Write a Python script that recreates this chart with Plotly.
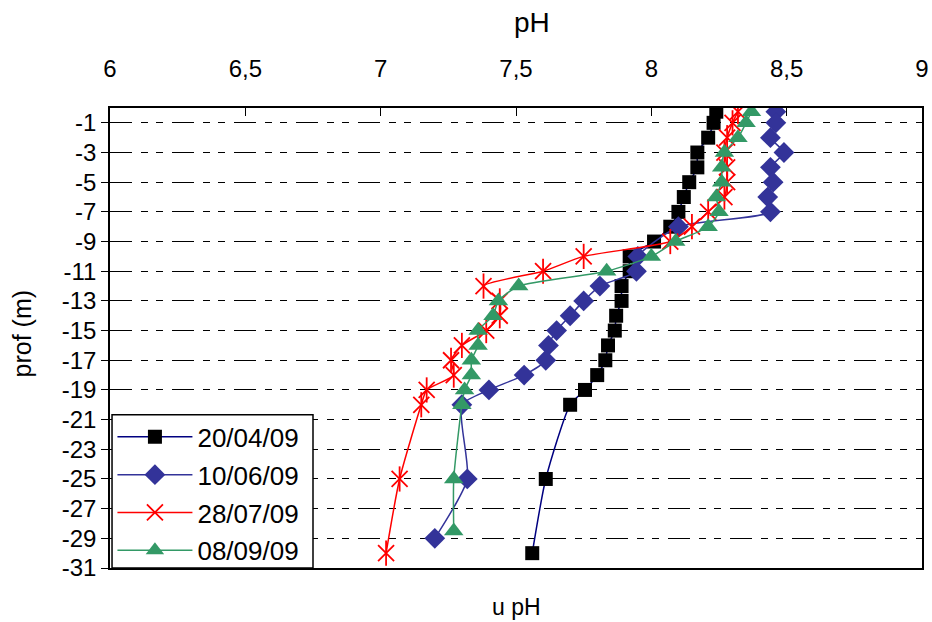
import plotly.graph_objects as go

# ---- data ----
series_names = ["20/04/09", "10/06/09", "28/07/09", "08/09/09"]

depth_1 = [-0.25, -1, -2, -3, -4, -5, -6, -7, -8, -9, -10, -11, -12, -13, -14, -15, -16, -17, -18, -19, -20, -25, -30]
ph_1 = [8.24, 8.23, 8.21, 8.17, 8.17, 8.14, 8.12, 8.10, 8.07, 8.01, 7.92, 7.92, 7.89, 7.89, 7.87, 7.865, 7.84, 7.83, 7.80, 7.755, 7.70, 7.61, 7.56]

depth_2 = [-0.25, -1, -2, -3, -4, -5, -6, -7, -8, -10, -11, -12, -13, -14, -15, -16, -17, -18, -19, -20, -25, -29]
ph_2 = [8.46, 8.46, 8.44, 8.49, 8.44, 8.45, 8.43, 8.44, 8.10, 7.95, 7.945, 7.81, 7.75, 7.70, 7.65, 7.62, 7.61, 7.53, 7.40, 7.30, 7.32, 7.20]

depth_3 = [-0.25, -1, -2, -3, -4, -5, -6, -7, -8, -9, -10, -11, -12, -13, -14, -15, -16, -17, -18, -19, -20, -25, -30]
ph_3 = [8.32, 8.30, 8.28, 8.27, 8.28, 8.28, 8.27, 8.21, 8.15, 8.07, 7.75, 7.60, 7.38, 7.44, 7.44, 7.39, 7.30, 7.26, 7.27, 7.17, 7.15, 7.07, 7.02]

depth_4 = [-0.25, -1, -2, -3, -4, -5, -6, -7, -8, -9, -10, -11, -12, -13, -14, -15, -16, -17, -18, -19, -20, -25, -28.5]
ph_4 = [8.37, 8.35, 8.32, 8.27, 8.26, 8.26, 8.24, 8.25, 8.21, 8.09, 8.00, 7.835, 7.51, 7.435, 7.415, 7.36, 7.36, 7.335, 7.335, 7.31, 7.30, 7.27, 7.27]

x_tickvals = [6, 6.5, 7, 7.5, 8, 8.5, 9]
x_ticktext = ["6", "6,5", "7", "7,5", "8", "8,5", "9"]
y_tickvals = [-1, -3, -5, -7, -9, -11, -13, -15, -17, -19, -21, -23, -25, -27, -29, -31]
y_ticktext = [str(v) for v in y_tickvals]

FONT = "Liberation Sans, Arial, Helvetica, sans-serif"

fig = go.Figure()

fig.add_trace(go.Scatter(
    x=ph_1, y=depth_1, name=series_names[0], mode="lines+markers",
    legendgroup="g1", line=dict(color="#000080", width=1.5, shape="spline", smoothing=0.6),
    marker=dict(symbol="square", size=14, color="#000000", line=dict(width=0)),
))
fig.add_trace(go.Scatter(
    x=ph_2, y=depth_2, name=series_names[1], mode="lines+markers",
    legendgroup="g2", line=dict(color="#333399", width=1.5, shape="spline", smoothing=0.6),
    marker=dict(symbol="diamond", size=16, color="#333399", line=dict(width=0)),
))
fig.add_trace(go.Scatter(
    x=ph_3, y=depth_3, name=series_names[2], mode="lines+markers",
    legendgroup="g3", line=dict(color="#FF0000", width=1.5, shape="spline", smoothing=0.6),
    marker=dict(symbol="x-thin-open", size=16, color="#FF0000", line=dict(width=1.8, color="#FF0000")),
))
fig.add_trace(go.Scatter(
    x=ph_3, y=depth_3, name=series_names[2], mode="markers", showlegend=False,
    legendgroup="g3", hoverinfo="skip",
    marker=dict(symbol="line-ns-open", size=18, color="#FF0000", line=dict(width=1.8, color="#FF0000")),
))
fig.add_trace(go.Scatter(
    x=ph_4, y=depth_4, name=series_names[3], mode="lines+markers",
    legendgroup="g4", line=dict(color="#339966", width=1.5, shape="spline", smoothing=0.6),
    marker=dict(symbol="triangle-up", size=17, color="#339966", line=dict(width=0)),
))

fig.update_layout(
    width=932, height=622,
    margin=dict(l=110, r=10, t=108, b=54, autoexpand=False),
    paper_bgcolor="white", plot_bgcolor="white",
    font=dict(family=FONT, size=24, color="black"),
    showlegend=True,
    legend=dict(
        x=0.003, y=-0.014, xanchor="left", yanchor="bottom",
        bgcolor="rgba(0,0,0,0)", borderwidth=0,
        font=dict(family=FONT, size=26, color="black"),
        traceorder="grouped", tracegroupgap=1,
        itemwidth=75,
    ),
    # white legend box with black frame (drawn above the traces, below the legend entries)
    shapes=[
        dict(type="rect", xref="paper", yref="paper", x0=0.0025, x1=0.2500, y0=0.0, y1=0.333,
             fillcolor="white", line=dict(color="black", width=1.5), layer="above"),
    ],
    xaxis=dict(
        side="top", range=[6, 9], tickvals=x_tickvals, ticktext=x_ticktext,
        ticks="inside", ticklen=8, tickcolor="black", tickwidth=1,
        showline=True, linecolor="black", linewidth=1.5, mirror=True,
        showgrid=False, zeroline=False, ticklabelstandoff=20,
        ticklabeloverflow="allow",
        tickfont=dict(family=FONT, size=24, color="black"),
    ),
    yaxis=dict(
        range=[-31, 0], tickvals=y_tickvals, ticktext=y_ticktext,
        ticks="outside", ticklen=7, tickcolor="black", tickwidth=1,
        showline=True, linecolor="black", linewidth=1.5, mirror=True,
        showgrid=True, gridcolor="black", gridwidth=1,
        griddash="22px,9px,7px,8px,7px,9px",
        zeroline=False, ticklabelstandoff=0,
        tickfont=dict(family=FONT, size=24, color="black"),
    ),
    annotations=[
        dict(text="pH", xref="paper", yref="paper", x=0.52, y=1.0, yshift=86,
             showarrow=False, xanchor="center", yanchor="middle",
             font=dict(family=FONT, size=28, color="black")),
        dict(text="u pH", xref="paper", yref="paper", x=0.5, y=0.0, yshift=-39,
             showarrow=False, xanchor="center", yanchor="middle",
             font=dict(family=FONT, size=23, color="black")),
        dict(text="prof (m)", xref="paper", yref="paper", x=0.0, xshift=-88, y=0.51,
             showarrow=False, xanchor="center", yanchor="middle", textangle=-90,
             font=dict(family=FONT, size=25, color="black")),
    ],
)

# remove the default 8px page margin so the figure sits at the window's top-left corner
fig.write_html("out.html", config={"displayModeBar": False},
               post_script="document.body.style.margin='0px';")
